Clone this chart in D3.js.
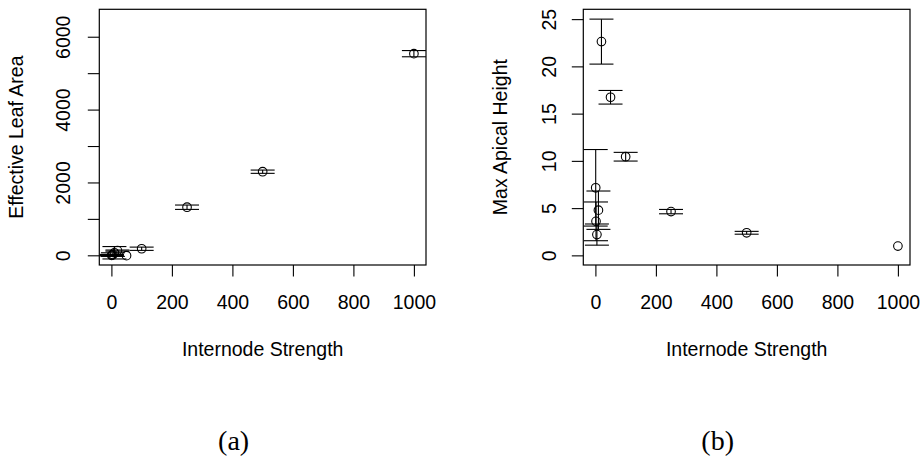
<!DOCTYPE html>
<html>
<head>
<meta charset="utf-8">
<script src="https://cdn.jsdelivr.net/npm/d3@7"></script>
<style>
  html, body { margin: 0; padding: 0; background: #fff; }
  svg { display: block; }
  text { font-family: "Liberation Sans", Arial, Helvetica, sans-serif; fill: #000; }
</style>
</head>
<body>
<svg id="fig" width="923" height="458"></svg>
<script>
// Internode strength settings shared by both panels
const strength = [1, 2, 5, 10, 20, 50, 100, 250, 500, 1000];

// (a) effective leaf area: mean and half-width of the error bar
const leafArea    = [0, 5, 20, 70, 130, -10, 180, 1320, 2295, 5535];
const leafAreaErr = [10, 20, 50, 170, 15, 0, 45, 60, 45, 85];

// (b) max apical height: mean and half-width of the error bar
const apicalHeight    = [7.15, 3.6, 2.2, 4.78, 22.62, 16.73, 10.44, 4.63, 2.39, 0.98];
const apicalHeightErr = [4.05, 2.05, 1.12, 2.03, 2.38, 0.72, 0.46, 0.23, 0.15, 0];

// Axis ticks
const xTicks = [0, 200, 400, 600, 800, 1000];
const leafTicks = [0, 1000, 2000, 3000, 4000, 5000, 6000];
const leafTickLabels = ["0", "", "2000", "", "4000", "", "6000"];
const heightTicks = [0, 5, 10, 15, 20, 25];
const heightTickLabels = ["0", "5", "10", "15", "20", "25"];

const svg = d3.select("#fig");
const FS = 19.5;      // axis text size
const TICK = 11.5;    // tick length
const CAP = 12;       // half-width of error-bar caps

function panel(opt) {
  const { left, right, top, bottom } = opt.box;
  const x = d3.scaleLinear().domain([-40, 1040]).range([left, right]);
  const y = d3.scaleLinear().domain(opt.yDomain).range([bottom, top]);
  const g = svg.append("g");

  // bottom axis
  const xa = g.append("g")
    .attr("transform", `translate(0,${bottom})`)
    .call(d3.axisBottom(x).tickValues(xTicks).tickSize(TICK).tickFormat(d3.format("d")));
  xa.select(".domain").remove();
  xa.selectAll("line").attr("stroke", "#000").attr("stroke-width", 1.1);
  xa.selectAll("text")
    .attr("y", null).attr("dy", null)
    .attr("transform", "translate(0,43.5)")
    .style("font-size", FS + "px")
    .attr("font-family", null);

  // left axis, labels rotated and running along the axis
  const ya = g.append("g")
    .attr("transform", `translate(${left},0)`)
    .call(d3.axisLeft(y).tickValues(opt.yTicks).tickSize(TICK)
      .tickFormat((d, i) => opt.yLabels[i]));
  ya.select(".domain").remove();
  ya.selectAll("line").attr("stroke", "#000").attr("stroke-width", 1.1);
  ya.selectAll("text")
    .attr("x", null).attr("dy", null)
    .attr("text-anchor", "middle")
    .attr("transform", `translate(${-opt.yLabelOffset},0) rotate(-90)`)
    .style("font-size", FS + "px")
    .attr("font-family", null);

  // plot frame
  g.append("rect")
    .attr("x", left).attr("y", top)
    .attr("width", right - left).attr("height", bottom - top)
    .attr("fill", "none").attr("stroke", "#000").attr("stroke-width", 1.2);

  // axis titles
  g.append("text")
    .attr("x", (left + right) / 2).attr("y", bottom + 90.5)
    .attr("text-anchor", "middle")
    .style("font-size", FS + "px")
    .text("Internode Strength");
  g.append("text")
    .attr("transform", `translate(${left - 76.3},${(top + bottom) / 2}) rotate(-90)`)
    .attr("text-anchor", "middle")
    .style("font-size", FS + "px")
    .text(opt.yTitle);

  // panel tag
  g.append("text")
    .attr("x", (left + right) / 2 - 29).attr("y", 450)
    .attr("text-anchor", "middle")
    .style("font-family", '"Liberation Serif", "DejaVu Serif", serif')
    .style("font-size", "28px")
    .text(opt.tag);

  const data = strength.map((s, i) => ({ s, v: opt.values[i], e: opt.errs[i] }));
  const marks = g.append("g").attr("stroke", "#000").attr("stroke-width", 1.1).attr("fill", "none");
  const withBars = data.filter(d => d.e > 0);

  // error bars with flat caps
  marks.selectAll("line.stem").data(withBars).join("line")
    .attr("class", "stem")
    .attr("x1", d => x(d.s)).attr("x2", d => x(d.s))
    .attr("y1", d => y(d.v - d.e)).attr("y2", d => y(d.v + d.e));
  marks.selectAll("line.capHi").data(withBars).join("line")
    .attr("class", "capHi")
    .attr("x1", d => x(d.s) - CAP).attr("x2", d => x(d.s) + CAP)
    .attr("y1", d => y(d.v + d.e)).attr("y2", d => y(d.v + d.e));
  marks.selectAll("line.capLo").data(withBars).join("line")
    .attr("class", "capLo")
    .attr("x1", d => x(d.s) - CAP).attr("x2", d => x(d.s) + CAP)
    .attr("y1", d => y(d.v - d.e)).attr("y2", d => y(d.v - d.e));

  // open circle points
  marks.selectAll("circle").data(data).join("circle")
    .attr("cx", d => x(d.s)).attr("cy", d => y(d.v)).attr("r", 4.3);
}

panel({
  box: { left: 99.3, right: 426, top: 9.3, bottom: 265 },
  yDomain: [-266, 6753],
  yTicks: leafTicks, yLabels: leafTickLabels, yLabelOffset: 29,
  yTitle: "Effective Leaf Area",
  values: leafArea, errs: leafAreaErr, tag: "(a)"
});

panel({
  box: { left: 583.3, right: 910, top: 9.3, bottom: 265 },
  yDomain: [-1.02, 26.04],
  yTicks: heightTicks, yLabels: heightTickLabels, yLabelOffset: 27,
  yTitle: "Max Apical Height",
  values: apicalHeight, errs: apicalHeightErr, tag: "(b)"
});
</script>
</body>
</html>
